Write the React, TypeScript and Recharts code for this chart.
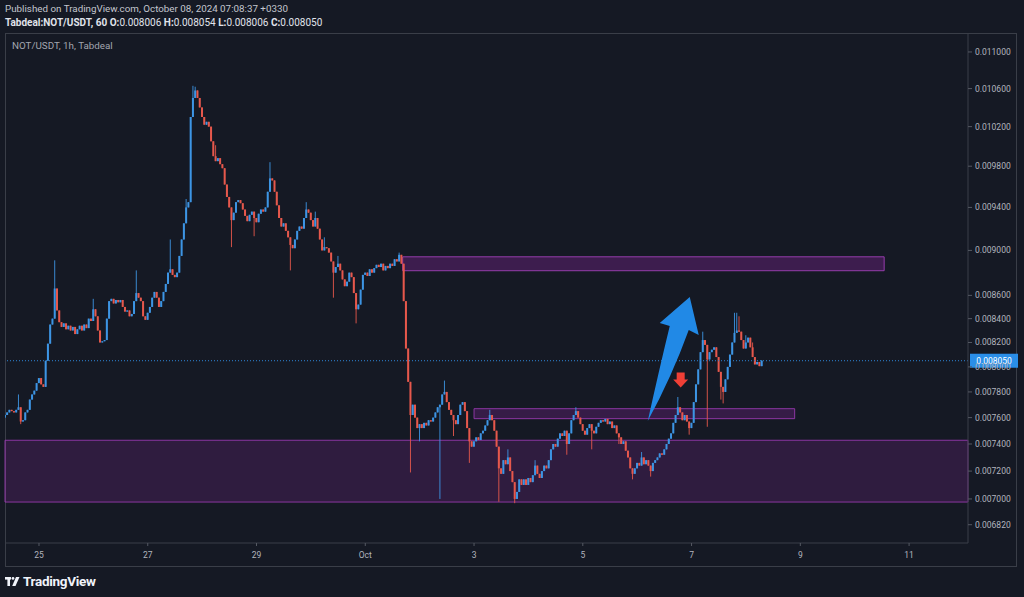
import React from 'react';
import { ComposedChart, Bar, XAxis, YAxis, ReferenceArea, ReferenceLine, ReferenceDot } from 'recharts';

// NOT/USDT 1h candles, prices in thousandths of USDT.
// hour 0 = Sep 25 00:00, first candle is Sep 24 09:00 (hour -15)
const FIRST_HOUR = -15;
const FIRST_OPEN = 7.6;

const closes = [
  // Sep 24 (from 09:00)
  7.62, 7.64, 7.66, 7.65, 7.64, 7.66, 7.68, 7.57, 7.58, 7.64, 7.66, 7.74, 7.78, 7.81, 7.87,
  // Sep 25
  7.91, 7.86, 7.84, 8.05, 8.19, 8.35, 8.40, 8.66, 8.47, 8.37, 8.33, 8.36, 8.31, 8.34, 8.30, 8.33, 8.27, 8.31, 8.34, 8.30, 8.35, 8.32, 8.40, 8.38,
  // Sep 26
  8.48, 8.42, 8.30, 8.20, 8.21, 8.22, 8.40, 8.55, 8.57, 8.53, 8.56, 8.54, 8.56, 8.50, 8.46, 8.47, 8.42, 8.44, 8.55, 8.62, 8.58, 8.55, 8.42, 8.39,
  // Sep 27
  8.45, 8.50, 8.58, 8.63, 8.58, 8.50, 8.55, 8.63, 8.70, 8.80, 8.83, 8.78, 8.76, 8.80, 8.95, 9.10, 9.25, 9.40, 9.45, 10.30, 10.50, 10.58, 10.50, 10.40,
  // Sep 28
  10.30, 10.22, 10.25, 10.20, 10.05, 9.90, 9.85, 9.88, 9.82, 9.78, 9.62, 9.50, 9.40, 9.28, 9.35, 9.45, 9.47, 9.44, 9.38, 9.32, 9.27, 9.33, 9.36, 9.30,
  // Sep 29
  9.26, 9.34, 9.38, 9.36, 9.40, 9.55, 9.68, 9.66, 9.55, 9.42, 9.30, 9.22, 9.25, 9.18, 9.12, 9.05, 9.02, 9.10, 9.18, 9.22, 9.20, 9.30, 9.38, 9.35,
  // Sep 30
  9.28, 9.22, 9.30, 9.20, 9.10, 9.00, 9.03, 9.02, 8.98, 8.90, 8.80, 8.85, 8.88, 8.82, 8.74, 8.68, 8.72, 8.80, 8.76, 8.62, 8.48, 8.52, 8.65, 8.78,
  // Oct 1
  8.80, 8.77, 8.83, 8.80, 8.84, 8.87, 8.85, 8.88, 8.82, 8.86, 8.84, 8.88, 8.86, 8.92, 8.90, 8.96, 8.88, 8.55, 8.15, 7.88, 7.62, 7.70, 7.60, 7.52,
  // Oct 2
  7.55, 7.52, 7.56, 7.54, 7.58, 7.57, 7.60, 7.64, 7.68, 7.70, 7.78, 7.80, 7.72, 7.66, 7.62, 7.58, 7.55, 7.62, 7.70, 7.72, 7.65, 7.52, 7.42, 7.38,
  // Oct 3
  7.42, 7.45, 7.43, 7.48, 7.50, 7.54, 7.58, 7.62, 7.58, 7.50, 7.38, 7.22, 7.18, 7.28, 7.25, 7.30, 7.20, 7.12, 7.00, 7.05, 7.14, 7.10, 7.14, 7.10,
  // Oct 4
  7.15, 7.12, 7.17, 7.24, 7.18, 7.15, 7.20, 7.24, 7.22, 7.28, 7.36, 7.40, 7.38, 7.44, 7.48, 7.46, 7.50, 7.40, 7.48, 7.58, 7.62, 7.65, 7.60, 7.55,
  // Oct 5
  7.50, 7.47, 7.52, 7.55, 7.50, 7.48, 7.53, 7.56, 7.58, 7.57, 7.59, 7.55, 7.57, 7.52, 7.54, 7.48, 7.45, 7.40, 7.42, 7.35, 7.30, 7.22, 7.18, 7.22,
  // Oct 6
  7.26, 7.24, 7.30, 7.25, 7.28, 7.24, 7.20, 7.26, 7.28, 7.30, 7.33, 7.32, 7.36, 7.40, 7.44, 7.48, 7.56, 7.62, 7.68, 7.64, 7.58, 7.62, 7.57, 7.52,
  // Oct 7
  7.56, 7.72, 7.86, 7.98, 8.12, 8.22, 8.18, 8.06, 8.12, 8.14, 8.16, 8.08, 7.96, 7.84, 7.80, 7.90, 8.00, 8.10, 8.20, 8.28, 8.30, 8.29, 8.22, 8.15,
  // Oct 8
  8.20, 8.24, 8.16, 8.08, 8.02, 8.04, 8.006, 8.05,
];

// visible wicks: [hour, high, low] (0 = no wick on that side)
const wicks: [number, number, number][] = [
  [-9, 7.78, 0], [-8, 0, 7.55], [7, 8.91, 0], [24, 8.57, 0], [43, 8.82, 0], [58, 9.1, 0],
  [65, 9.48, 0], [68, 10.63, 0], [69, 10.62, 0], [78, 10.01, 0], [85, 0, 9.03], [95, 0, 9.13],
  [102, 9.84, 0], [111, 0, 8.82], [118, 9.45, 0], [122, 9.36, 0], [126, 9.12, 0], [130, 0, 8.58],
  [132, 8.95, 0], [140, 0, 8.36], [159, 8.98, 0], [164, 0, 7.19], [168, 0, 7.42], [177, 0, 7.0],
  [179, 7.89, 0], [183, 0, 7.46], [190, 0, 7.26], [199, 7.66, 0], [203, 0, 6.98], [207, 7.36, 0],
  [210, 0, 6.97], [219, 7.28, 0], [233, 0, 7.32], [237, 7.68, 0], [244, 0, 7.36], [256, 0, 7.4],
  [262, 0, 7.14], [266, 7.34, 0], [270, 0, 7.16], [282, 7.76, 0], [287, 0, 7.47], [293, 8.29, 0],
  [295, 0, 7.53], [301, 0, 7.74], [302, 0, 7.71], [307, 8.45, 0], [308, 8.45, 0], [309, 8.42, 0],
  [312, 8.26, 0], [315, 8.2, 0], [319, 8.054, 8.006],
];

const tickHours = [0, 48, 96, 144, 192, 240, 288, 336, 384];
const tickLabels = ['25', '27', '29', 'Oct', '3', '5', '7', '9', '11'];
const priceTicks = [6.82, 7.0, 7.2, 7.4, 7.6, 7.8, 8.0, 8.2, 8.4, 8.6, 9.0, 9.4, 9.8, 10.2, 10.6, 11.0];

const lastPrice = 8.05;
const supportZone = [6.978, 7.428];
const upperZone = [8.817, 8.942];
const upperZoneHours = [160.5, 373];
const flipZone = [7.592, 7.669];
const flipZoneHours = [192, 333.5];
const bigArrowTip = [287.2, 8.586];
const smallArrowTip = [283.2, 7.836];

const UP = '#3d95e4';
const DOWN = '#e6584c';
const BG = '#151924';
const LINE = '#3a3e48';
const TEXT = '#b2b5be';
const FONT = "Roboto, 'Open Sans', sans-serif";

const candles = closes.map((close, i) => {
  const t = FIRST_HOUR + i;
  const open = i === 0 ? FIRST_OPEN : closes[i - 1];
  const w = wicks.find(k => k[0] === t);
  const high = Math.max(open, close, w && w[1] ? w[1] : 0);
  const low = Math.min(open, close, w && w[2] ? w[2] : Infinity);
  return { t, open, close, high, low, range: [low, high] };
});

const Candle = (props: any) => {
  const { x, y, width, height, payload } = props;
  if (!payload) return null;
  const { open, close, high, low } = payload;
  const color = close >= open ? UP : DOWN;
  const top = Math.min(y, y + height);
  const h = Math.abs(height);
  const lh = Math.log(high);
  const span = lh - Math.log(low) || 1;
  const py = (v: number) => top + (h * (lh - Math.log(v))) / span;
  const bTop = py(Math.max(open, close));
  const bBot = py(Math.min(open, close));
  const cx = x + width / 2;
  return (
    <g>
      <line x1={cx} x2={cx} y1={top} y2={top + Math.max(h, 1)} stroke={color} strokeWidth={0.9} />
      <rect x={cx - 1} y={bTop} width={2} height={Math.max(bBot - bTop, 1.2)} fill={color} />
    </g>
  );
};

const BigArrow = (props: any) => {
  const { cx, cy } = props;
  if (cx == null || cy == null) return null;
  const d = `M${cx},${cy} L${cx + 9},${cy + 38} L${cx - 1},${cy + 33} Q${cx - 18},${cy + 80} ${cx - 42},${cy + 124} Q${cx - 30},${cy + 70} ${cx - 20},${cy + 29} L${cx - 30},${cy + 26} Z`;
  return <path d={d} fill="#2189e6" />;
};

const SmallArrow = (props: any) => {
  const { cx, cy } = props;
  if (cx == null || cy == null) return null;
  const d = `M${cx},${cy} L${cx - 7.5},${cy - 8} L${cx - 4},${cy - 8} L${cx - 4},${cy - 15} L${cx + 4},${cy - 15} L${cx + 4},${cy - 8} L${cx + 7.5},${cy - 8} Z`;
  return <path d={d} fill="#ef3f36" />;
};

const PriceTag = (props: any) => {
  const { viewBox } = props;
  if (!viewBox) return null;
  const x = viewBox.x + viewBox.width + 2;
  const y = viewBox.y;
  return (
    <g>
      <rect x={x} y={y - 7} width={48} height={14} fill="#2a8ee8" />
      <text x={x + 24} y={y + 3} textAnchor="middle" fill="#ffffff" fontSize={8.5} fontFamily={FONT}>
        {(lastPrice / 1000).toFixed(6)}
      </text>
    </g>
  );
};

export default function App() {
  return (
    <div style={{ position: 'fixed', left: 0, top: 0, width: 1024, height: 597, background: BG, fontFamily: FONT, overflow: 'hidden' }}>
      <div style={{ position: 'absolute', left: 5, top: 3, fontSize: 9.8, color: '#c3c6ce', whiteSpace: 'nowrap' }}>
        Published on TradingView.com, October 08, 2024 07:08:37 +0330
      </div>
      <div style={{ position: 'absolute', left: 5, top: 17, fontSize: 10, color: '#e0e3eb', whiteSpace: 'nowrap' }}>
        <b>Tabdeal:NOT/USDT, 60</b> <b>O:</b>0.008006 <b>H:</b>0.008054 <b>L:</b>0.008006 <b>C:</b>0.008050
      </div>
      <div style={{ position: 'absolute', left: 5, top: 33, width: 1012, height: 534, border: `1px solid ${LINE}`, boxSizing: 'border-box' }} />
      <div style={{ position: 'absolute', left: 12, top: 40, fontSize: 9.8, color: '#a3a6af', whiteSpace: 'nowrap' }}>
        NOT/USDT, 1h, Tabdeal
      </div>
      <div style={{ position: 'absolute', left: 0, top: 0 }}>
        <ComposedChart width={1024} height={597} data={candles} margin={{ top: 33, right: 6, bottom: 30, left: 5 }}>
          <XAxis
            dataKey="t"
            type="number"
            domain={[-15, 410]}
            ticks={tickHours}
            tickFormatter={(v: number) => tickLabels[tickHours.indexOf(v)] ?? ''}
            height={24}
            axisLine={{ stroke: LINE }}
            tickLine={{ stroke: '#555963' }}
            tickSize={3}
            tickMargin={6}
            tick={{ fill: TEXT, fontSize: 8.5, fontFamily: FONT }}
            allowDataOverflow
          />
          <YAxis
            orientation="right"
            scale="log"
            domain={[6.695, 11.213]}
            allowDataOverflow
            ticks={priceTicks}
            tickFormatter={(v: number) => (v / 1000).toFixed(6)}
            width={50}
            axisLine={{ stroke: LINE }}
            tickLine={{ stroke: '#555963' }}
            tickSize={4}
            tickMargin={3}
            tick={{ fill: TEXT, fontSize: 8.5, fontFamily: FONT }}
          />
          <ReferenceArea x1={-15} x2={410} y1={supportZone[0]} y2={supportZone[1]} fill="#9c27b0" fillOpacity={0.2} stroke="#9c3bb5" strokeOpacity={0.85} />
          <ReferenceArea x1={flipZoneHours[0]} x2={flipZoneHours[1]} y1={flipZone[0]} y2={flipZone[1]} fill="#9c27b0" fillOpacity={0.25} stroke="#9c3bb5" strokeOpacity={0.85} />
          <ReferenceArea x1={upperZoneHours[0]} x2={upperZoneHours[1]} y1={upperZone[0]} y2={upperZone[1]} fill="#9c27b0" fillOpacity={0.3} stroke="#a040b8" strokeOpacity={0.9} />
          <Bar dataKey="range" shape={<Candle />} barSize={2} isAnimationActive={false} />
          <ReferenceLine y={lastPrice} stroke="#2f86d6" strokeDasharray="1 2" strokeWidth={1} label={<PriceTag />} />
          <ReferenceDot x={bigArrowTip[0]} y={bigArrowTip[1]} r={1} shape={<BigArrow />} />
          <ReferenceDot x={smallArrowTip[0]} y={smallArrowTip[1]} r={1} shape={<SmallArrow />} />
        </ComposedChart>
      </div>
      <div style={{ position: 'absolute', left: 5, top: 573, display: 'flex', alignItems: 'center', gap: 3, color: '#f0f3fa', fontSize: 13.5, fontWeight: 700, whiteSpace: 'nowrap' }}>
        <svg width={15} height={11} viewBox="0 0 15 11">
          <rect x={0} y={1} width={6} height={2.6} fill="#f0f3fa" />
          <rect x={2.4} y={1} width={2.6} height={9} fill="#f0f3fa" />
          <circle cx={8} cy={2.4} r={1.4} fill="#f0f3fa" />
          <path d="M11,1 L14.5,1 L10.5,10 L7.2,10 Z" fill="#f0f3fa" />
        </svg>
        <span style={{ letterSpacing: -0.3 }}>TradingView</span>
      </div>
    </div>
  );
}
